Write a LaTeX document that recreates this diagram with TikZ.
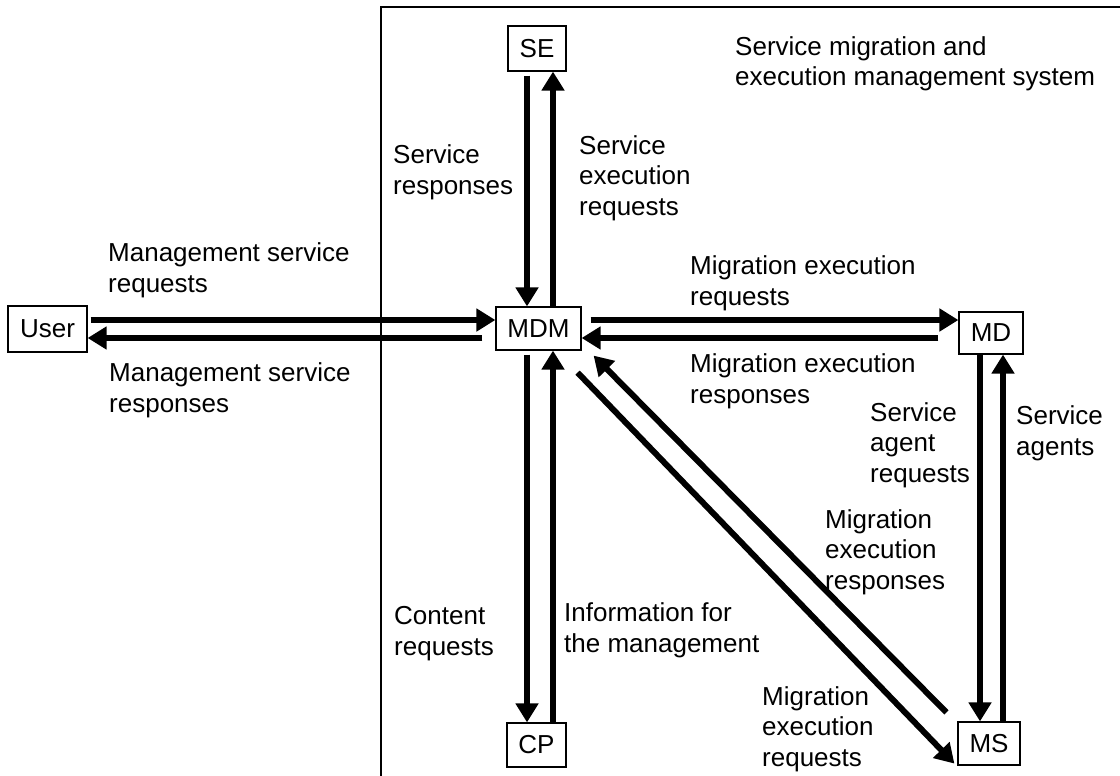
\documentclass[tikz,border=0pt]{standalone}
\usepackage{fontspec}
\setmainfont{Liberation Sans}
\usetikzlibrary{arrows.meta}
\begin{document}
\begin{tikzpicture}[x=1pt,y=-1pt,
  box/.style={draw,line width=1.2pt,inner sep=0pt,minimum height=44pt,font=\fontsize{26}{30}\selectfont},
  flow/.style={line width=6pt,-{Triangle[width=22pt,length=19pt]}},
  lbl/.style={anchor=base west,align=left,inner sep=0pt,font=\fontsize{26}{30.5}\selectfont},
  frame/.style={line width=1.2pt}]
\useasboundingbox (0,0) rectangle (1120,776);

% system boundary (open to the right and bottom)
\draw[frame] (1125,7) -| (381,781);

% components
\node[box,minimum width=58pt,minimum height=45pt] (se) at (537,48.5) {SE};
\node[box,minimum width=85pt,minimum height=43pt] (mdm) at (538.5,328.5) {MDM};
\node[box,minimum width=64pt,minimum height=42pt] (md) at (991,333) {MD};
\node[box,minimum width=62pt,minimum height=43pt] (ms) at (989,743.5) {MS};
\node[box,minimum width=59pt,minimum height=44pt] (cp) at (536.5,745) {CP};
\node[box,minimum width=79pt,minimum height=46pt] (user) at (47.5,329) {User};

% SE <-> MDM
\draw[flow] ([xshift=-10pt,yshift=-4pt]se.south) -- ([xshift=-11.5pt]mdm.north);
\draw[flow] ([xshift=14.5pt]mdm.north) -- ([xshift=16pt]se.south);
% MDM <-> CP
\draw[flow] ([xshift=-11.5pt,yshift=-4pt]mdm.south) -- ([xshift=-9.5pt]cp.north);
\draw[flow] ([xshift=16.5pt]cp.north) -- ([xshift=14.5pt]mdm.south);
% User <-> MDM
\draw[flow] ([shift={(3pt,9pt)}]user.east) -- ([yshift=8.5pt]mdm.west);
\draw[flow] ([shift={(-13pt,-9.5pt)}]mdm.west) -- ([yshift=-9pt]user.east);
% MDM <-> MD
\draw[flow] ([shift={(9pt,8.5pt)}]mdm.east) -- ([yshift=13pt]md.west);
\draw[flow] ([shift={(-20pt,-5pt)}]md.west) -- ([yshift=-9.5pt]mdm.east);
% MD <-> MS
\draw[flow] ([xshift=-11pt]md.south) -- ([xshift=-9pt]ms.north);
\draw[flow] ([xshift=14pt]ms.north) -- ([xshift=12pt]md.south);
% MDM <-> MS (diagonal)
\draw[flow] ([shift={(-4pt,-22pt)}]mdm.south east) -- ([shift={(-3pt,2pt)}]ms.south west);
\draw[flow] ([shift={(-11pt,9pt)}]ms.north west) -- ([shift={(12pt,-5pt)}]mdm.south east);

% labels (placed by the baseline of their last line)
\node[lbl] (tSys) at (735,86) {Service migration and\\execution management system};
\node[lbl] (tSResp) at (393,194) {Service\\responses};
\node[lbl] (tSReq) at (579,215) {Service\\execution\\requests};
\node[lbl] (tMReq) at (108,292) {Management service\\requests};
\node[lbl] (tMResp) at (109,412) {Management service\\responses};
\node[lbl] (tMigReq) at (690,305) {Migration execution\\requests};
\node[lbl] (tMigResp) at (690,403) {Migration execution\\responses};
\node[lbl] (tAgReq) at (870,482) {Service\\agent\\requests};
\node[lbl] (tAg) at (1016,455) {Service\\agents};
\node[lbl] (tDiagResp) at (825,589) {Migration\\execution\\responses};
\node[lbl] (tCont) at (394,655) {Content\\requests};
\node[lbl] (tInfo) at (564,652) {Information for\\the management};
\node[lbl] (tDiagReq) at (762,766) {Migration\\execution\\requests};
\end{tikzpicture}
\end{document}
